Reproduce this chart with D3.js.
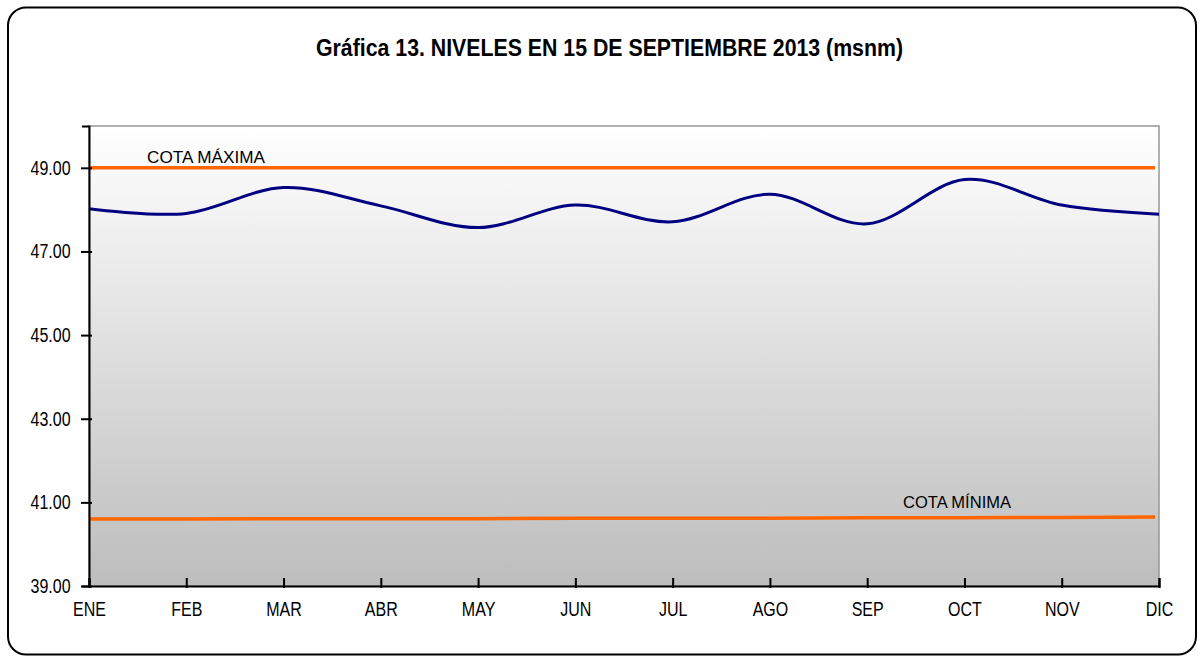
<!DOCTYPE html>
<html>
<head>
<meta charset="utf-8">
<script src="https://cdn.jsdelivr.net/npm/d3@7"></script>
<style>
  body { margin: 0; background: #fff; }
  text { font-family: "Liberation Sans", Arial, sans-serif; fill: #000; }
  .title { font-weight: bold; }
</style>
</head>
<body>
<svg id="chart" width="1202" height="660"></svg>
<script>
// data
const months = ["ENE", "FEB", "MAR", "ABR", "MAY", "JUN", "JUL", "AGO", "SEP", "OCT", "NOV", "DIC"];
const niveles = [48.02, 47.91, 48.53, 48.09, 47.57, 48.11, 47.71, 48.37, 47.66, 48.72, 48.11, 47.89];
const cotaMaxima = [49.0, 49.0, 49.0, 49.0, 49.0, 49.0, 49.0, 49.0, 49.0, 49.0, 49.0, 49.0];
const cotaMinima = [40.60, 40.60, 40.61, 40.61, 40.61, 40.62, 40.62, 40.62, 40.63, 40.63, 40.64, 40.65];
const yTicks = [39, 41, 43, 45, 47, 49];

const svg = d3.select("#chart");
const margin = { left: 89, top: 126, right: 1159, bottom: 586 };
const narrow = "scale(0.8,1)"; // the original uses a condensed face

// outer rounded frame
svg.append("rect")
    .attr("x", 8).attr("y", 7.5)
    .attr("width", 1188).attr("height", 647)
    .attr("rx", 18).attr("ry", 18)
    .attr("fill", "#fff")
    .attr("stroke", "#000")
    .attr("stroke-width", 2);

svg.append("text")
    .attr("class", "title")
    .attr("x", 316).attr("y", 56)
    .attr("font-size", 23)
    .attr("textLength", 587)
    .attr("lengthAdjust", "spacingAndGlyphs")
    .text("Gráfica 13. NIVELES EN 15 DE SEPTIEMBRE 2013 (msnm)");

const x = d3.scalePoint().domain(months).range([margin.left, margin.right]);
const y = d3.scaleLinear().domain([39, 50]).range([margin.bottom, margin.top]);

// plot background gradient
const grad = svg.append("defs").append("linearGradient")
    .attr("id", "bg").attr("x1", 0).attr("y1", 0).attr("x2", 0).attr("y2", 1);
grad.append("stop").attr("offset", "0%").attr("stop-color", "#ffffff");
grad.append("stop").attr("offset", "100%").attr("stop-color", "#bdbdbd");

svg.append("rect")
    .attr("x", margin.left).attr("y", margin.top)
    .attr("width", margin.right - margin.left)
    .attr("height", margin.bottom - margin.top)
    .attr("fill", "url(#bg)")
    .attr("stroke", "#969696")
    .attr("stroke-width", 1.5);

const line = d3.line()
    .x((d, i) => x(months[i]))
    .y(d => y(d));

// reference lines (stop just short of the right edge)
const refLine = d3.line()
    .x((d, i) => i === 11 ? x(months[i]) - 4 : x(months[i]))
    .y(d => y(d));

svg.append("path").datum(cotaMaxima)
    .attr("d", refLine)
    .attr("fill", "none")
    .attr("stroke", "#ff6600")
    .attr("stroke-width", 3.5);

svg.append("path").datum(cotaMinima)
    .attr("d", refLine)
    .attr("fill", "none")
    .attr("stroke", "#ff6600")
    .attr("stroke-width", 3.5);

svg.append("path").datum(niveles)
    .attr("d", line.curve(d3.curveCardinal.tension(0)))
    .attr("fill", "none")
    .attr("stroke", "#000080")
    .attr("stroke-width", 3);

// axes
const yAxis = svg.append("g")
    .attr("transform", `translate(${margin.left},0)`)
    .call(d3.axisLeft(y).tickValues(yTicks).tickFormat(d3.format(".2f")).tickSize(7).tickPadding(0));
yAxis.select(".domain").attr("stroke", "#000").attr("stroke-width", 2);
yAxis.selectAll(".tick line").attr("stroke", "#000").attr("stroke-width", 2).attr("x2", -8).attr("x1", 3);
yAxis.selectAll(".tick text")
    .attr("font-size", 20)
    .attr("font-family", "Liberation Sans, Arial, sans-serif")
    .attr("x", -23)
    .attr("transform", narrow);

const xAxis = svg.append("g")
    .attr("transform", `translate(0,${margin.bottom})`)
    .call(d3.axisBottom(x).tickSize(-8).tickPadding(16));
xAxis.select(".domain").attr("stroke", "#000").attr("stroke-width", 2);
xAxis.selectAll(".tick line").attr("stroke", "#000").attr("stroke-width", 2).attr("y2", -8).attr("y1", 2);
xAxis.selectAll(".tick text")
    .attr("font-size", 20)
    .attr("font-family", "Liberation Sans, Arial, sans-serif")
    .attr("transform", narrow);

// labels for the reference lines
svg.append("text")
    .attr("x", 147).attr("y", y(cotaMaxima[1]) - 5)
    .attr("font-size", 16)
    .attr("textLength", 118)
    .attr("lengthAdjust", "spacingAndGlyphs")
    .text("COTA  MÁXIMA");

svg.append("text")
    .attr("x", 903).attr("y", y(cotaMinima[9]) - 10)
    .attr("font-size", 16)
    .attr("textLength", 108)
    .attr("lengthAdjust", "spacingAndGlyphs")
    .text("COTA  MÍNIMA");
</script>
</body>
</html>
